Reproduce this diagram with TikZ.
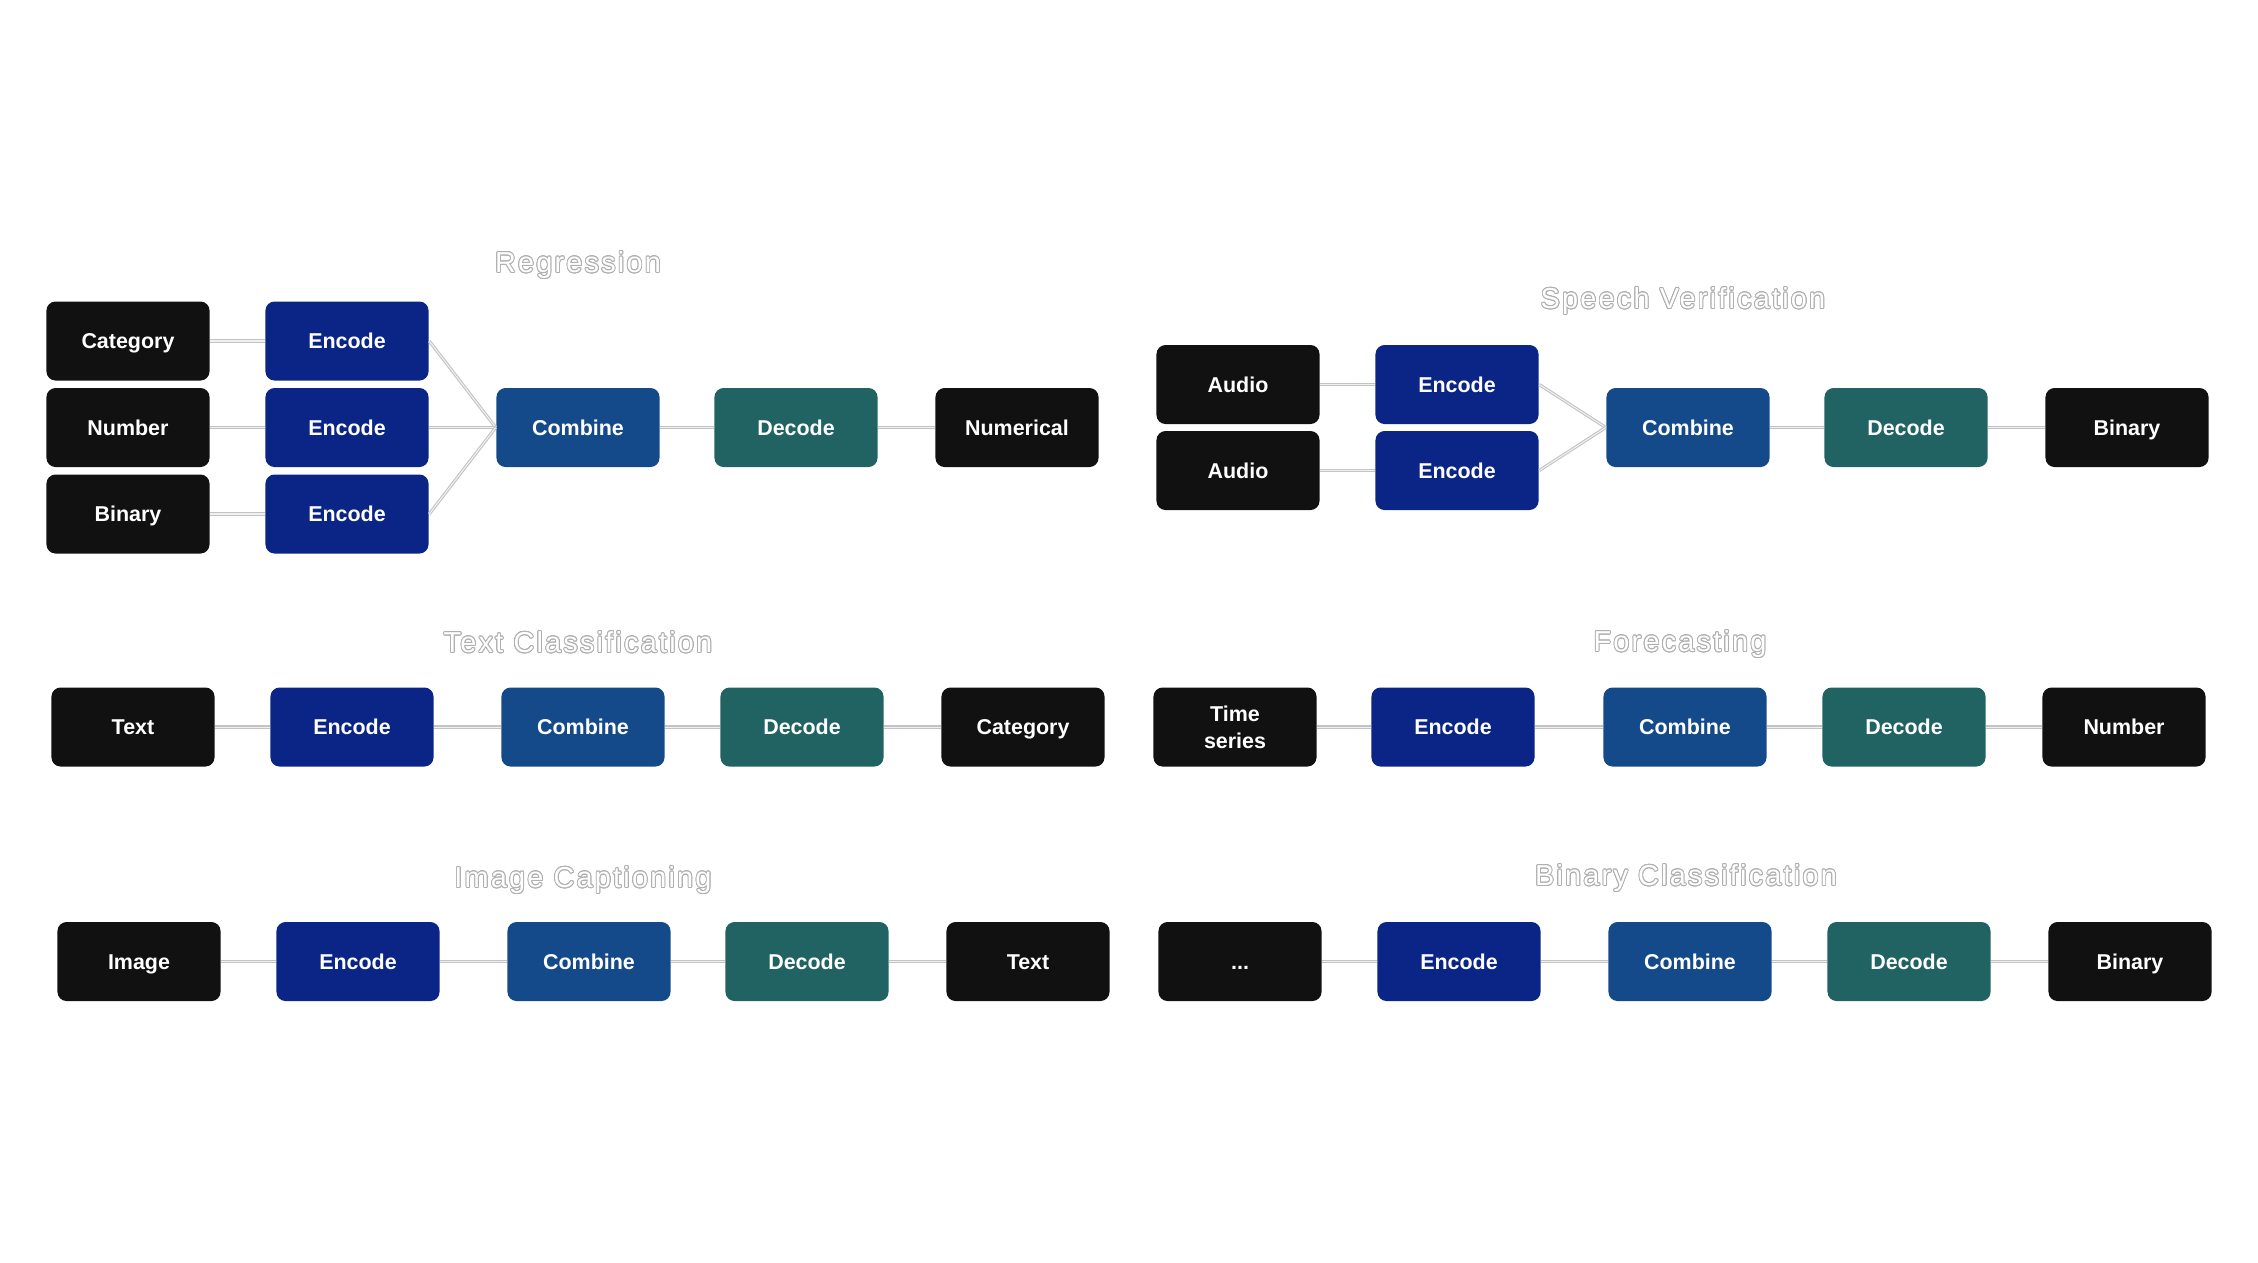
\documentclass[tikz,border=0pt]{standalone}
\usepackage{fontspec}
\setmainfont{Liberation Sans}
\newfontfamily\titlefont[LetterSpace=7.7]{Liberation Sans}
\usepackage{contour}
\contourlength{0.25pt}
\definecolor{darkbox}{RGB}{17,17,17}
\definecolor{encblue}{RGB}{10,37,133}
\definecolor{comblue}{RGB}{21,74,138}
\definecolor{decteal}{RGB}{33,99,99}
\definecolor{linkgray}{RGB}{195,195,195}
\definecolor{titlegray}{RGB}{175,175,175}

\begin{document}
\begin{tikzpicture}[x=0.01cm,y=-0.01cm,
		box/.style={rounded corners=2.6pt, minimum width=1.63cm, minimum height=0.79cm, inner sep=0pt, text=white, align=center, text height=4.4pt, text depth=0pt, font=\fontsize{6.1}{7.6}\selectfont\bfseries},
		datab/.style={box, fill=darkbox},
		enc/.style={box, fill=encblue},
		comb/.style={box, fill=comblue},
		dec/.style={box, fill=decteal},
		link/.style={draw=linkgray, line width=0.3pt, double=white!94!black, double distance=0.3pt},
		tasktitle/.style={text=white, inner sep=0pt, text height=5.9pt, text depth=0pt, font=\titlefont\fontsize{8.2}{9}\selectfont}]
			\useasboundingbox (0,0) rectangle (2258,1262);
			
			% Regression
			\node[tasktitle] (trg) at (578,262) {\contour{titlegray}{Regression}};
			\node[datab] (rgin1) at (128,341) {Category};
			\node[datab] (rgin2) at (128,427.5) {Number};
			\node[datab] (rgin3) at (128,514) {Binary};
			\node[enc] (rgenc1) at (347,341) {Encode};
			\node[enc] (rgenc2) at (347,427.5) {Encode};
			\node[enc] (rgenc3) at (347,514) {Encode};
			\node[comb] (rgcomb) at (578,427.5) {Combine};
			\node[dec] (rgdec) at (796,427.5) {Decode};
			\node[datab] (rgout) at (1017,427.5) {Numerical};
			\draw[link] (rgin1) -- (rgenc1);
			\draw[link] (rgin2) -- (rgenc2);
			\draw[link] (rgin3) -- (rgenc3);
			\draw[link] (rgenc1.east) -- (rgcomb.west);
			\draw[link] (rgenc2.east) -- (rgcomb.west);
			\draw[link] (rgenc3.east) -- (rgcomb.west);
			\draw[link] (rgcomb) -- (rgdec);
			\draw[link] (rgdec) -- (rgout);
			
			% Speech Verification
			\node[tasktitle] (tsv) at (1683,298) {\contour{titlegray}{Speech Verification}};
			\node[datab] (svin1) at (1238,384.5) {Audio};
			\node[datab] (svin2) at (1238,470.5) {Audio};
			\node[enc] (svenc1) at (1457,384.5) {Encode};
			\node[enc] (svenc2) at (1457,470.5) {Encode};
			\node[comb] (svcomb) at (1688,427.5) {Combine};
			\node[dec] (svdec) at (1906,427.5) {Decode};
			\node[datab] (svout) at (2127,427.5) {Binary};
			\draw[link] (svin1) -- (svenc1);
			\draw[link] (svin2) -- (svenc2);
			\draw[link] (svenc1.east) -- (svcomb.west);
			\draw[link] (svenc2.east) -- (svcomb.west);
			\draw[link] (svcomb) -- (svdec);
			\draw[link] (svdec) -- (svout);
			
			% Text Classification
			\node[tasktitle] (ttc) at (578,642) {\contour{titlegray}{Text Classification}};
			\node[datab] (tcin) at (133,727) {Text};
			\node[enc] (tcenc) at (352,727) {Encode};
			\node[comb] (tccomb) at (583,727) {Combine};
			\node[dec] (tcdec) at (802,727) {Decode};
			\node[datab] (tcout) at (1023,727) {Category};
			\draw[link] (tcin) -- (tcenc);
			\draw[link] (tcenc) -- (tccomb);
			\draw[link] (tccomb) -- (tcdec);
			\draw[link] (tcdec) -- (tcout);
			
			% Forecasting
			\node[tasktitle] (tfc) at (1680,641) {\contour{titlegray}{Forecasting}};
			\node[datab, text height=12pt] (fcin) at (1235,727) {Time\\series};
			\node[enc] (fcenc) at (1453,727) {Encode};
			\node[comb] (fccomb) at (1685,727) {Combine};
			\node[dec] (fcdec) at (1904,727) {Decode};
			\node[datab] (fcout) at (2124,727) {Number};
			\draw[link] (fcin) -- (fcenc);
			\draw[link] (fcenc) -- (fccomb);
			\draw[link] (fccomb) -- (fcdec);
			\draw[link] (fcdec) -- (fcout);
			
			% Image Captioning
			\node[tasktitle] (tic) at (583,877) {\contour{titlegray}{Image Captioning}};
			\node[datab] (icin) at (139,961.5) {Image};
			\node[enc] (icenc) at (358,961.5) {Encode};
			\node[comb] (iccomb) at (589,961.5) {Combine};
			\node[dec] (icdec) at (807,961.5) {Decode};
			\node[datab] (icout) at (1028,961.5) {Text};
			\draw[link] (icin) -- (icenc);
			\draw[link] (icenc) -- (iccomb);
			\draw[link] (iccomb) -- (icdec);
			\draw[link] (icdec) -- (icout);
			
			% Binary Classification
			\node[tasktitle] (tbc) at (1686,875) {\contour{titlegray}{Binary Classification}};
			\node[datab] (bcin) at (1240,961.5) {...};
			\node[enc] (bcenc) at (1459,961.5) {Encode};
			\node[comb] (bccomb) at (1690,961.5) {Combine};
			\node[dec] (bcdec) at (1909,961.5) {Decode};
			\node[datab] (bcout) at (2130,961.5) {Binary};
			\draw[link] (bcin) -- (bcenc);
			\draw[link] (bcenc) -- (bccomb);
			\draw[link] (bccomb) -- (bcdec);
			\draw[link] (bcdec) -- (bcout);
			
\end{tikzpicture}
\end{document}
